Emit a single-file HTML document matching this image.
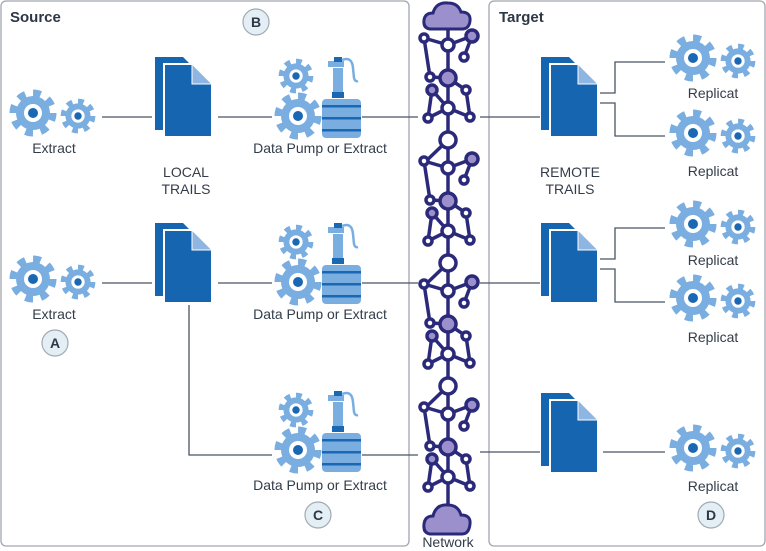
<!DOCTYPE html>
<html><head><meta charset="utf-8"><style>
html,body{margin:0;padding:0;background:#fff;}
svg{display:block;font-family:"Liberation Sans",sans-serif;}
.t{font-size:14px;fill:#333d4a;text-anchor:middle;}
.ln{stroke:#4a5563;stroke-width:1.3;fill:none;}
</style></head><body>
<svg width="766" height="551" viewBox="0 0 766 551" xmlns="http://www.w3.org/2000/svg">
<defs>
<g id="gear">
<circle r="19.5" fill="none" stroke="#7aaee0" stroke-width="8" stroke-dasharray="7.6 7.7"/>
<circle r="17" fill="#7aaee0"/>
<circle r="9" fill="#fff"/>
<circle r="5" fill="#1a67b3"/>
</g>
<g id="gears">
<use href="#gear" transform="translate(-21,-2)"/>
<use href="#gear" transform="translate(24,1) scale(0.74)"/>
</g>
<g id="doc">
<path d="M0,0 H28 L48,20 V73 H0 Z" fill="#1565b0"/>
<path d="M9,7 H37 L57,27 V80 H9 Z" fill="#1565b0" stroke="#fff" stroke-width="2"/>
<path d="M37,7 L57,27 H37 Z" fill="#8fb6e2" stroke="#fff" stroke-width="1"/>
</g>
<g id="pump">
<use href="#gear" transform="translate(-26,-42) scale(0.74)"/>
<use href="#gear" transform="translate(-24,-2)"/>
<rect x="0" y="-19" width="39" height="39" rx="4" fill="#7aaee0"/>
<rect x="0" y="-13" width="39" height="2.5" fill="#1a67b3"/>
<rect x="0" y="-1" width="39" height="2.5" fill="#1a67b3"/>
<rect x="0" y="11" width="39" height="2.5" fill="#1a67b3"/>
<rect x="10" y="-26" width="12" height="6" fill="#1a67b3"/>
<rect x="11" y="-50" width="10" height="24" fill="#7aaee0"/>
<rect x="6" y="-57" width="16" height="6" fill="#7aaee0"/>
<rect x="12" y="-61" width="8" height="5" fill="#1a67b3"/>
<path d="M20,-58 Q30,-62 31,-50 L32,-40 Q33,-36 36,-37" fill="none" stroke="#7aaee0" stroke-width="2.5"/>
</g>
<g id="unit" stroke="#2b2a7a" stroke-width="3.5" fill="#fff">
<line x1="448" y1="45" x2="472" y2="36"/><line x1="472" y1="36" x2="464" y2="57"/>
<line x1="424" y1="38" x2="448" y2="45"/><line x1="424" y1="38" x2="430" y2="77"/>
<line x1="430" y1="77" x2="448" y2="78"/><line x1="448" y1="78" x2="466" y2="90"/>
<line x1="432" y1="90" x2="448" y2="108"/><line x1="432" y1="90" x2="428" y2="118"/>
<line x1="428" y1="118" x2="448" y2="108"/><line x1="466" y1="90" x2="470" y2="117"/>
<line x1="470" y1="117" x2="448" y2="108"/><line x1="448" y1="140" x2="424" y2="163"/>
<circle cx="448" cy="45" r="6"/><circle cx="472" cy="36" r="6" fill="#9b8fcc"/>
<circle cx="464" cy="57" r="4"/><circle cx="424" cy="38" r="4"/>
<circle cx="430" cy="77" r="4"/><circle cx="448" cy="78" r="8" fill="#9b8fcc"/>
<circle cx="432" cy="90" r="5" fill="#9b8fcc"/><circle cx="466" cy="90" r="4"/>
<circle cx="448" cy="108" r="6"/><circle cx="428" cy="118" r="4"/>
<circle cx="470" cy="117" r="4"/>
</g>
</defs>

<rect x="1" y="1" width="408" height="545" rx="5" fill="none" stroke="#a0a6ad" stroke-width="1.3"/>
<rect x="489" y="1" width="276" height="545" rx="5" fill="none" stroke="#a0a6ad" stroke-width="1.3"/>
<text x="10" y="22" font-size="15" font-weight="bold" fill="#2d3846">Source</text>
<text x="499" y="22" font-size="15" font-weight="bold" fill="#2d3846">Target</text>

<g class="ln">
<path d="M102,117 H152 M218,117 H272 M362,117 H418"/>
<path d="M102,283 H152 M218,283 H272 M362,283 H418"/>
<path d="M189,305 V455 H272 M362,455 H418"/>
<path d="M480,117 H540 M600,93 H615 V62 H665 M600,103 H615 V136 H665"/>
<path d="M480,283 H540 M600,259 H615 V228 H665 M600,269 H615 V302 H665"/>
<path d="M480,452 H540 M603,452 H665"/>
</g>

<line x1="448" y1="15" x2="448" y2="515" stroke="#2b2a7a" stroke-width="3.5"/>
<use href="#unit"/>
<use href="#unit" transform="translate(0,123)"/>
<use href="#unit" transform="translate(0,246)"/>
<use href="#unit" transform="translate(0,369)"/>
<g stroke="#2b2a7a" stroke-width="3.5" fill="#fff">
<circle cx="448" cy="140" r="8"/><circle cx="448" cy="263" r="8"/><circle cx="448" cy="386" r="8"/>
</g>
<g fill="#9b8fcc" stroke="#2b2a7a" stroke-width="3">
<path d="M430,29 Q423,28 424,20 Q425,13 433,13 Q436,2 448,3 Q458,3 461,12 Q471,12 470,21 Q469,29 462,29 Z"/>
<path d="M430,534 Q423,533 424,524 Q425,516 433,516 Q436,504 448,505 Q458,505 461,515 Q471,515 470,524 Q469,534 462,534 Z"/>
</g>
<text class="t" x="448" y="547">Network</text>

<use href="#gears" transform="translate(54,115)"/>
<text class="t" x="54" y="153">Extract</text>
<use href="#doc" transform="translate(155,57)"/>
<use href="#pump" transform="translate(322,118)"/>
<text class="t" x="320" y="153">Data Pump or Extract</text>
<text class="t" x="186" y="177">LOCAL</text>
<text class="t" x="186" y="194">TRAILS</text>

<use href="#gears" transform="translate(54,281)"/>
<text class="t" x="54" y="319">Extract</text>
<use href="#doc" transform="translate(155,223)"/>
<use href="#pump" transform="translate(322,284)"/>
<text class="t" x="320" y="319">Data Pump or Extract</text>

<use href="#pump" transform="translate(322,452)"/>
<text class="t" x="320" y="490">Data Pump or Extract</text>

<use href="#doc" transform="translate(541,57)"/>
<use href="#doc" transform="translate(541,223)"/>
<use href="#doc" transform="translate(541,393)"/>
<text class="t" x="570" y="177">REMOTE</text>
<text class="t" x="570" y="194">TRAILS</text>
<use href="#gears" transform="translate(714,60)"/>
<text class="t" x="713" y="98">Replicat</text>
<use href="#gears" transform="translate(714,135)"/>
<text class="t" x="713" y="176">Replicat</text>
<use href="#gears" transform="translate(714,226)"/>
<text class="t" x="713" y="265">Replicat</text>
<use href="#gears" transform="translate(714,300)"/>
<text class="t" x="713" y="342">Replicat</text>
<use href="#gears" transform="translate(714,450)"/>
<text class="t" x="713" y="491">Replicat</text>

<g fill="#e4eef5" stroke="#a0aab3" stroke-width="1.2">
<circle cx="256" cy="22" r="13"/><circle cx="55" cy="343" r="13"/>
<circle cx="318" cy="515" r="13"/><circle cx="711" cy="515" r="13"/>
</g>
<g font-size="14" font-weight="bold" fill="#2d3846" text-anchor="middle">
<text x="256" y="27">B</text><text x="55" y="348">A</text>
<text x="318" y="520">C</text><text x="711" y="520">D</text>
</g>
</svg>
</body></html>
